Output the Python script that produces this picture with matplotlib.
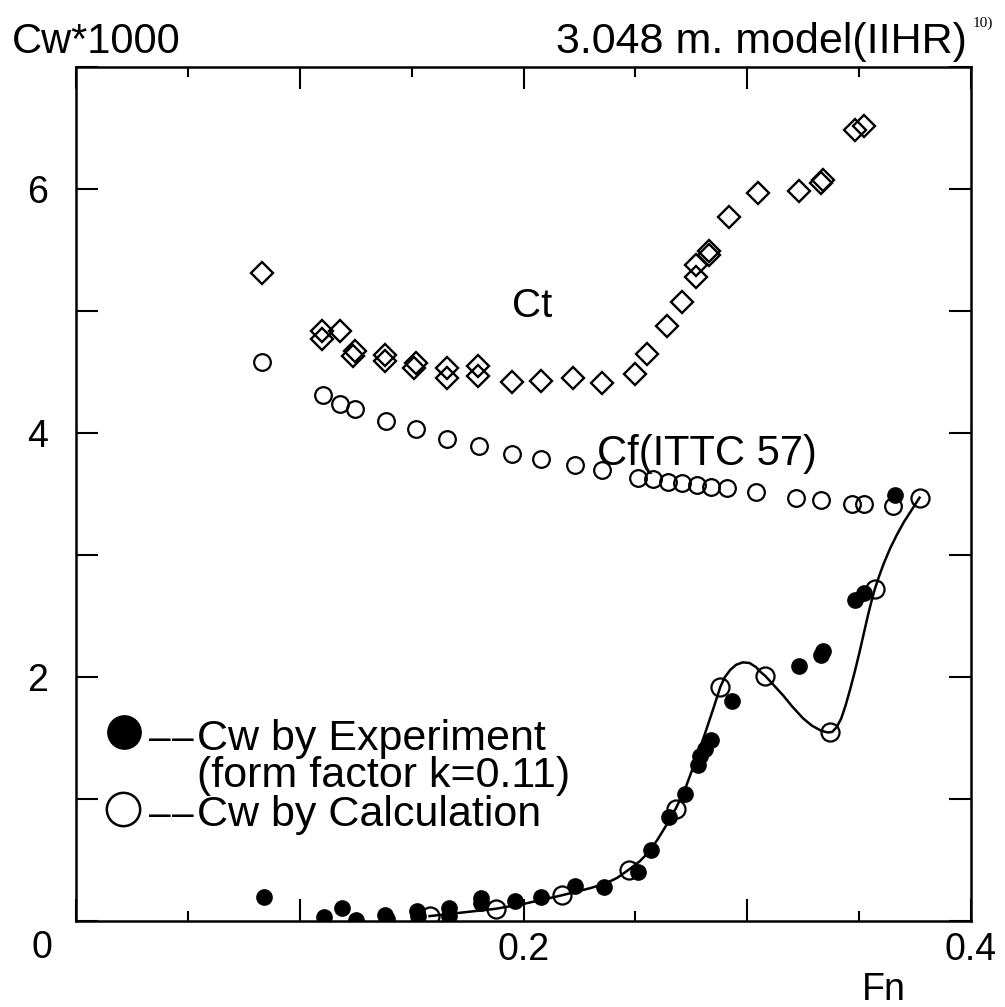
import matplotlib
matplotlib.use("Agg")
import matplotlib.pyplot as plt
from matplotlib.lines import Line2D

plt.rcParams['font.family'] = ['Liberation Sans', 'DejaVu Sans']

# Ct - total resistance (diamonds)
ct_fn = [0.083, 0.110, 0.110, 0.118, 0.1245, 0.124, 0.138, 0.138, 0.152, 0.151,
         0.166, 0.166, 0.1795, 0.1795, 0.195, 0.208, 0.222, 0.235, 0.250, 0.255,
         0.264, 0.271, 0.277, 0.277, 0.283, 0.283, 0.292, 0.305, 0.323, 0.333,
         0.334, 0.348, 0.352]
ct_val = [5.31, 4.84, 4.77, 4.84, 4.67, 4.63, 4.64, 4.59, 4.57, 4.53,
          4.53, 4.45, 4.55, 4.47, 4.42, 4.43, 4.45, 4.41, 4.48, 4.65,
          4.88, 5.07, 5.28, 5.38, 5.49, 5.46, 5.77, 5.97, 5.98, 6.05,
          6.07, 6.48, 6.52]

# Cf (ITTC 57) - friction line (small open circles)
cf_fn = [0.083, 0.1105, 0.118, 0.1245, 0.1385, 0.152, 0.166, 0.180, 0.195, 0.208,
         0.223, 0.235, 0.251, 0.258, 0.2645, 0.271, 0.2775, 0.284, 0.291, 0.304,
         0.322, 0.333, 0.347, 0.352, 0.365]
cf_val = [4.58, 4.31, 4.24, 4.20, 4.10, 4.03, 3.95, 3.89, 3.83, 3.79,
          3.74, 3.70, 3.63, 3.62, 3.60, 3.59, 3.575, 3.56, 3.55, 3.52,
          3.47, 3.45, 3.42, 3.42, 3.40]

# Cw by experiment (filled dots)
exp_fn = [0.084, 0.111, 0.119, 0.125, 0.138, 0.139, 0.1525, 0.153, 0.1667, 0.1667,
          0.181, 0.181, 0.196, 0.208, 0.223, 0.236, 0.251, 0.257, 0.265, 0.272,
          0.278, 0.279, 0.281, 0.284, 0.293, 0.323, 0.333, 0.334, 0.348, 0.352,
          0.366]
exp_val = [0.20, 0.035, 0.11, 0.01, 0.05, 0.02, 0.08, 0.04, 0.107, 0.04,
           0.19, 0.145, 0.16, 0.20, 0.29, 0.28, 0.40, 0.58, 0.85, 1.04,
           1.28, 1.35, 1.41, 1.48, 1.80, 2.09, 2.18, 2.21, 2.63, 2.69,
           3.49]

# Cw by calculation (open circles)
calc_fn = [0.158, 0.1875, 0.217, 0.247, 0.268, 0.288, 0.308, 0.337, 0.357, 0.377]
calc_val = [0.04, 0.10, 0.21, 0.42, 0.92, 1.92, 2.01, 1.55, 2.72, 3.47]

# smooth calculated curve
curve_fn = [0.158, 0.168, 0.1875, 0.200, 0.217, 0.230, 0.237, 0.242, 0.247, 0.252,
            0.256, 0.260, 0.264, 0.268, 0.272, 0.277, 0.281, 0.285, 0.288, 0.290,
            0.2925, 0.295, 0.298, 0.301, 0.304, 0.306, 0.308, 0.312, 0.316, 0.320,
            0.325, 0.329, 0.333, 0.336, 0.338, 0.340, 0.342, 0.344, 0.346, 0.348,
            0.350, 0.352, 0.354, 0.3555, 0.357, 0.359, 0.361, 0.364, 0.367, 0.370,
            0.3735, 0.377]
curve_val = [0.04, 0.06, 0.10, 0.14, 0.21, 0.27, 0.31, 0.355, 0.42, 0.49,
             0.565, 0.67, 0.79, 0.92, 1.07, 1.32, 1.53, 1.75, 1.92, 2.00,
             2.06, 2.10, 2.12, 2.115, 2.08, 2.04, 2.01, 1.93, 1.85, 1.76,
             1.66, 1.60, 1.56, 1.545, 1.55, 1.59, 1.66, 1.77, 1.90, 2.04,
             2.19, 2.35, 2.51, 2.62, 2.72, 2.83, 2.93, 3.06, 3.17, 3.27,
             3.37, 3.47]

W, H = 1005, 1007
fig = plt.figure(figsize=(W / 100, H / 100), dpi=100)
ax = fig.add_axes([76 / W, 1 - 921 / H, 895 / W, 854 / H])

ax.plot(curve_fn, curve_val, color='black', linewidth=1.8, zorder=2,
        solid_joinstyle='round')
ax.plot(ct_fn, ct_val, linestyle='none', marker='D', markersize=11,
        markerfacecolor='none', markeredgecolor='black', markeredgewidth=1.7, zorder=3)
ax.plot(cf_fn, cf_val, linestyle='none', marker='o', markersize=12,
        markerfacecolor='none', markeredgecolor='black', markeredgewidth=1.6, zorder=3)
ax.plot(calc_fn, calc_val, linestyle='none', marker='o', markersize=13,
        markerfacecolor='none', markeredgecolor='black', markeredgewidth=1.6, zorder=3)
ax.plot(exp_fn, exp_val, linestyle='none', marker='o', markersize=11,
        markerfacecolor='black', markeredgecolor='black', zorder=4)

ax.set_xlim(0, 0.4)
ax.set_ylim(0, 7)
ax.set_xticks([0, 0.1, 0.2, 0.3, 0.4])
ax.set_xticklabels(['', '', '0.2', '', '0.4'])
ax.set_xticks([0.05, 0.15, 0.25, 0.35], minor=True)
ax.set_yticks([0, 1, 2, 3, 4, 5, 6, 7])
ax.set_yticklabels(['', '', '2', '', '4', '', '6', ''])
ax.tick_params(which='both', direction='in', top=True, right=True, width=1.5,
               labelsize=27)
ax.tick_params(which='major', length=16)
ax.tick_params(which='minor', length=7)
ax.tick_params(axis='x', pad=8)
ax.tick_params(axis='y', pad=20)
for sp in ax.spines.values():
    sp.set_linewidth(1.8)

# curve labels
ax.text(0.195, 4.95, 'Ct', fontsize=29, ha='left', va='baseline')
ax.text(0.233, 3.74, 'Cf(ITTC 57)', fontsize=30, ha='left', va='baseline')

# corner / axis texts
fig.text(12 / W, 1 - 53 / H, 'Cw*1000', fontsize=30, ha='left', va='baseline')
fig.text(967 / W, 1 - 53 / H, '3.048 m. model(IIHR)', fontsize=31,
         ha='right', va='baseline')
fig.text(973 / W, 1 - 27 / H, '10)', fontsize=11, family='Liberation Serif',
         ha='left', va='baseline')
fig.text(42 / W, 1 - 958 / H, '0', fontsize=27, ha='center', va='baseline')
fig.text(884 / W, 1 - 1000 / H, 'Fn', fontsize=27, ha='center', va='baseline')

# legend
fig.add_artist(Line2D([124 / W], [1 - 732 / H], transform=fig.transFigure,
                      marker='o', markersize=24, markerfacecolor='black',
                      markeredgecolor='black', linestyle='none'))
fig.add_artist(Line2D([123 / W], [1 - 809 / H], transform=fig.transFigure,
                      marker='o', markersize=24, markerfacecolor='none',
                      markeredgecolor='black', markeredgewidth=1.8, linestyle='none'))
for yb in (750, 826):
    fig.text(149 / W, 1 - yb / H, '\u2013', fontsize=28, ha='left', va='baseline')
    fig.text(172 / W, 1 - yb / H, '\u2013', fontsize=28, ha='left', va='baseline')
fig.text(197 / W, 1 - 750 / H, 'Cw by Experiment', fontsize=31,
         ha='left', va='baseline')
fig.text(197 / W, 1 - 787 / H, '(form factor k=0.11)', fontsize=31,
         ha='left', va='baseline')
fig.text(197 / W, 1 - 826 / H, 'Cw by Calculation', fontsize=31,
         ha='left', va='baseline')

fig.savefig('out.png', dpi=100)
